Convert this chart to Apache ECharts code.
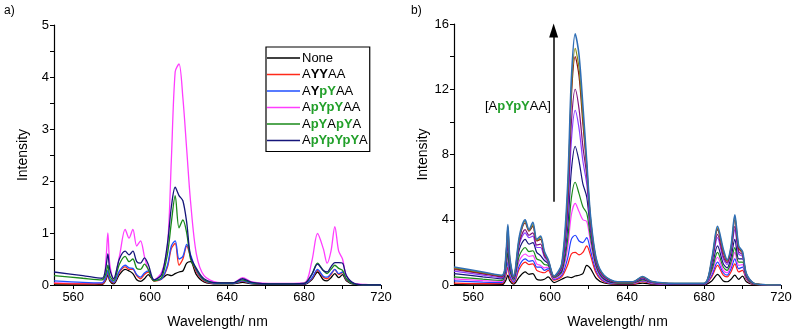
<!DOCTYPE html>
<html>
<head>
<meta charset="utf-8">
<script src="https://cdn.jsdelivr.net/npm/echarts@6/dist/echarts.min.js"></script>
<style>
  html, body { margin: 0; padding: 0; background: #fff; }
  #chart { width: 800px; height: 334px; }
</style>
</head>
<body>
<div id="chart"></div>
<script>
// shared wavelength grid (nm)
const wavelength = [550, 565, 575, 577, 578, 579, 581, 584, 587, 589, 591, 593, 595, 597, 599, 602, 606, 609, 611, 613, 615, 617, 619, 621, 624, 628, 635, 643, 648, 653, 665, 680, 684, 687, 690, 692, 694, 696, 698, 700, 702, 706, 712, 720];

const xTickValues = [560, 580, 600, 620, 640, 660, 680, 700, 720];
const xLabelValues = [560, 600, 640, 680, 720];
const yTicksA = [0, 0.5, 1, 1.5, 2, 2.5, 3, 3.5, 4, 4.5, 5];
const yLabelsA = [0, 1, 2, 3, 4, 5];
const yTicksB = [0, 2, 4, 6, 8, 10, 12, 14, 16];
const yLabelsB = [0, 4, 8, 12, 16];

// panel a – one peptide each
const namesA = ["None", "AYYAA", "AYpYAA", "ApYpYAA", "ApYApYA", "ApYpYpYA"];
const colorsA = ["#000000", "#ff2a1a", "#1f4fff", "#ff3dff", "#1a8a1a", "#15157a"];
const aNone = [0.0, 0.0, 0.01, 0.1, 0.2, 0.08, 0.02, 0.2, 0.3, 0.27, 0.22, 0.1, 0.07, 0.12, 0.2, 0.08, 0.12, 0.2, 0.18, 0.22, 0.25, 0.27, 0.42, 0.45, 0.2, 0.06, 0.02, 0.02, 0.05, 0.02, 0.01, 0.01, 0.1, 0.25, 0.1, 0.08, 0.14, 0.22, 0.14, 0.2, 0.08, 0.01, 0, 0];
const aAYYAA = [0.03, 0.02, 0.02, 0.12, 0.26, 0.1, 0.04, 0.25, 0.35, 0.3, 0.3, 0.18, 0.12, 0.2, 0.25, 0.08, 0.12, 0.35, 0.7, 0.8, 0.38, 0.5, 0.75, 0.55, 0.25, 0.08, 0.03, 0.03, 0.07, 0.03, 0.02, 0.02, 0.12, 0.28, 0.15, 0.12, 0.2, 0.3, 0.2, 0.24, 0.1, 0.02, 0, 0];
const aAYpYAA = [0.08, 0.05, 0.04, 0.15, 0.28, 0.12, 0.05, 0.27, 0.38, 0.33, 0.32, 0.2, 0.15, 0.23, 0.27, 0.09, 0.12, 0.38, 0.75, 0.85, 0.5, 0.55, 0.78, 0.58, 0.28, 0.09, 0.03, 0.03, 0.08, 0.03, 0.02, 0.02, 0.13, 0.3, 0.17, 0.15, 0.22, 0.3, 0.22, 0.25, 0.11, 0.02, 0, 0];
const aApYpYAA = [0.04, 0.03, 0.04, 0.5, 1.0, 0.4, 0.1, 0.55, 1.07, 0.9, 1.07, 0.75, 0.85, 0.55, 0.3, 0.1, 0.25, 0.75, 2.4, 4.1, 4.25, 3.6, 2.6, 1.6, 0.6, 0.18, 0.05, 0.04, 0.14, 0.06, 0.03, 0.04, 0.45, 0.99, 0.7, 0.42, 0.65, 1.12, 0.65, 0.5, 0.18, 0.03, 0.01, 0];
const aApYApYA = [0.18, 0.13, 0.1, 0.22, 0.38, 0.18, 0.08, 0.4, 0.55, 0.45, 0.5, 0.32, 0.3, 0.4, 0.3, 0.08, 0.15, 0.6, 1.2, 1.72, 1.1, 1.25, 1.0, 0.5, 0.3, 0.1, 0.04, 0.04, 0.1, 0.04, 0.02, 0.03, 0.2, 0.42, 0.28, 0.22, 0.3, 0.38, 0.32, 0.28, 0.12, 0.02, 0, 0];
const aApYpYpYA = [0.25, 0.18, 0.13, 0.35, 0.6, 0.3, 0.12, 0.5, 0.65, 0.58, 0.65, 0.45, 0.42, 0.52, 0.4, 0.1, 0.2, 0.8, 1.5, 1.88, 1.72, 1.62, 1.2, 0.55, 0.32, 0.12, 0.04, 0.04, 0.12, 0.05, 0.02, 0.03, 0.2, 0.4, 0.28, 0.25, 0.35, 0.43, 0.43, 0.42, 0.18, 0.03, 0, 0];
const seriesA = [aNone, aAYYAA, aAYpYAA, aApYpYAA, aApYApYA, aApYpYpYA];

// panel b – titration with increasing [ApYpYAA]
const colorsB = ["#000000", "#ff1a1a", "#1f3fff", "#ff3dff", "#1a8a1a", "#15157a", "#8a3dff", "#80107f", "#8a1010", "#8a8a10", "#2f6eb5"];
const b01 = [0.02, 0.01, 0.02, 0.3, 0.6, 0.25, 0.05, 0.5, 0.8, 0.65, 0.7, 0.35, 0.3, 0.35, 0.5, 0.15, 0.35, 0.5, 0.45, 0.55, 0.6, 0.7, 1.2, 1.0, 0.4, 0.12, 0.04, 0.04, 0.12, 0.05, 0.02, 0.02, 0.25, 0.65, 0.25, 0.2, 0.35, 0.6, 0.35, 0.55, 0.2, 0.02, 0, 0];
const b02 = [0.12, 0.08, 0.08, 0.6, 1.1, 0.45, 0.12, 1.0, 1.4, 1.25, 1.3, 0.9, 0.8, 0.75, 0.9, 0.3, 0.5, 1.2, 1.9, 2.0, 1.85, 2.0, 2.4, 1.8, 0.7, 0.2, 0.06, 0.06, 0.2, 0.08, 0.03, 0.03, 0.5, 1.2, 0.6, 0.5, 0.8, 1.3, 0.8, 0.9, 0.35, 0.04, 0.01, 0];
const b03 = [0.25, 0.18, 0.15, 0.75, 1.4, 0.6, 0.18, 1.2, 1.6, 1.45, 1.5, 1.1, 1.1, 0.9, 1.0, 0.35, 0.6, 1.6, 2.8, 3.05, 2.7, 2.6, 2.9, 2.1, 0.85, 0.25, 0.08, 0.08, 0.25, 0.1, 0.04, 0.04, 0.6, 1.4, 0.75, 0.6, 1.0, 1.6, 1.0, 1.1, 0.4, 0.05, 0.01, 0];
const b04 = [0.38, 0.27, 0.22, 0.95, 1.8, 0.8, 0.25, 1.5, 1.9, 1.75, 1.8, 1.3, 1.2, 1.05, 1.1, 0.4, 0.7, 2.2, 4.3, 5.0, 4.5, 4.0, 3.9, 2.6, 1.0, 0.3, 0.1, 0.1, 0.28, 0.12, 0.05, 0.05, 0.75, 1.7, 0.9, 0.75, 1.2, 2.0, 1.2, 1.25, 0.45, 0.06, 0.01, 0];
const b05 = [0.5, 0.36, 0.28, 1.05, 2.0, 0.9, 0.3, 1.8, 2.3, 2.05, 2.1, 1.6, 1.5, 1.25, 1.2, 0.45, 0.8, 2.7, 5.3, 6.3, 5.6, 4.8, 4.4, 2.9, 1.1, 0.35, 0.12, 0.12, 0.32, 0.14, 0.06, 0.06, 0.9, 2.0, 1.1, 0.9, 1.4, 2.3, 1.4, 1.4, 0.5, 0.07, 0.01, 0];
const b06 = [0.7, 0.5, 0.38, 1.3, 2.5, 1.1, 0.38, 2.2, 2.8, 2.5, 2.6, 2.0, 1.8, 1.5, 1.3, 0.5, 0.9, 3.4, 7.0, 8.5, 7.6, 6.2, 5.4, 3.3, 1.25, 0.4, 0.14, 0.14, 0.38, 0.16, 0.07, 0.07, 1.1, 2.4, 1.3, 1.05, 1.7, 2.8, 1.6, 1.6, 0.55, 0.08, 0.02, 0];
const b07 = [0.85, 0.6, 0.45, 1.55, 3.0, 1.35, 0.42, 2.5, 3.2, 2.9, 3.0, 2.3, 2.3, 1.7, 1.4, 0.5, 1.0, 4.1, 8.8, 10.7, 9.6, 7.6, 6.2, 3.6, 1.35, 0.45, 0.16, 0.16, 0.42, 0.18, 0.08, 0.08, 1.3, 2.9, 1.6, 1.25, 2.0, 3.4, 1.9, 1.75, 0.6, 0.09, 0.02, 0];
const b08 = [0.95, 0.68, 0.5, 1.65, 3.2, 1.45, 0.45, 2.6, 3.4, 3.05, 3.2, 2.45, 2.5, 1.8, 1.45, 0.5, 1.1, 4.6, 9.9, 12.0, 10.8, 8.5, 6.7, 3.8, 1.4, 0.5, 0.17, 0.17, 0.45, 0.19, 0.09, 0.09, 1.4, 3.1, 1.75, 1.35, 2.1, 3.6, 2.05, 1.85, 0.63, 0.09, 0.02, 0];
const b09 = [1.0, 0.72, 0.55, 1.8, 3.5, 1.6, 0.48, 2.8, 3.8, 3.3, 3.6, 2.7, 2.8, 1.95, 1.5, 0.52, 1.2, 5.3, 11.5, 14.0, 12.8, 9.9, 7.2, 4.0, 1.5, 0.55, 0.18, 0.18, 0.48, 0.2, 0.09, 0.09, 1.5, 3.4, 2.0, 1.45, 2.25, 4.0, 2.25, 1.95, 0.66, 0.1, 0.02, 0];
const b10 = [1.05, 0.76, 0.58, 1.85, 3.6, 1.65, 0.5, 2.9, 3.9, 3.35, 3.7, 2.75, 2.9, 2.0, 1.5, 0.53, 1.25, 5.5, 11.9, 14.5, 13.3, 10.3, 7.4, 4.1, 1.55, 0.57, 0.19, 0.19, 0.5, 0.2, 0.1, 0.1, 1.55, 3.5, 2.1, 1.5, 2.3, 4.2, 2.35, 2.0, 0.68, 0.1, 0.02, 0];
const b11 = [1.1, 0.8, 0.6, 1.9, 3.7, 1.7, 0.52, 3.0, 4.0, 3.4, 3.85, 2.8, 3.0, 2.05, 1.55, 0.55, 1.3, 5.9, 12.6, 15.4, 14.1, 11.0, 7.6, 4.2, 1.6, 0.6, 0.2, 0.2, 0.52, 0.21, 0.1, 0.1, 1.6, 3.6, 2.2, 1.55, 2.35, 4.3, 2.4, 2.05, 0.7, 0.1, 0.02, 0];
const seriesB = [b01, b02, b03, b04, b05, b06, b07, b08, b09, b10, b11];

// arrow in panel b (data coords)
const arrowFrom = [601.8, 5.1];
const arrowTo = [601.8, 15.6];

const FONT = "Liberation Sans, Arial, sans-serif";
const GREEN = "#22a02a";

// legend labels with the phospho residues in green
const legendRich = {
  None: "{n|None}",
  AYYAA: "{n|A}{b|YY}{n|AA}",
  AYpYAA: "{n|A}{b|Y}{g|pY}{n|AA}",
  ApYpYAA: "{n|A}{g|pYpY}{n|AA}",
  ApYApYA: "{n|A}{g|pY}{n|A}{g|pY}{n|A}",
  ApYpYpYA: "{n|A}{g|pYpYpY}{n|A}",
};

const chart = echarts.init(document.getElementById("chart"), null, { renderer: "canvas" });

function pairs(ys) {
  return wavelength.map((x, i) => [x, ys[i]]);
}

function xAxisFor(gridIndex) {
  return {
    type: "value",
    gridIndex,
    min: 550,
    max: 720,
    name: "Wavelength/ nm",
    nameLocation: "middle",
    nameGap: 30,
    nameTextStyle: { fontFamily: FONT, fontSize: 14, color: "#000" },
    axisLine: { lineStyle: { color: "#000", width: 1.2 } },
    axisTick: { length: 4, lineStyle: { color: "#000" }, customValues: xTickValues },
    axisLabel: { fontFamily: FONT, fontSize: 13, color: "#000", margin: 6, customValues: xLabelValues },
    splitLine: { show: false },
  };
}

function yAxisFor(gridIndex, max, ticks, labels) {
  return {
    type: "value",
    gridIndex,
    min: 0,
    max,
    name: "Intensity",
    nameLocation: "middle",
    nameGap: 24,
    nameRotate: 90,
    nameTextStyle: { fontFamily: FONT, fontSize: 14, color: "#000" },
    axisLine: { show: true, lineStyle: { color: "#000", width: 1.2 } },
    axisTick: { show: true, length: 4, lineStyle: { color: "#000" }, customValues: ticks },
    axisLabel: { fontFamily: FONT, fontSize: 13, color: "#000", margin: 5, customValues: labels },
    splitLine: { show: false },
  };
}

const series = [];
namesA.forEach((name, i) => {
  series.push({
    name,
    type: "line",
    xAxisIndex: 0,
    yAxisIndex: 0,
    data: pairs(seriesA[i]),
    symbol: "none",
    smooth: 0.3,
    lineStyle: { color: colorsA[i], width: 1.3 },
    itemStyle: { color: colorsA[i] },
    z: i === 3 ? 1 : 2,
  });
});
seriesB.forEach((ys, i) => {
  series.push({
    name: "b" + (i + 1),
    type: "line",
    xAxisIndex: 1,
    yAxisIndex: 1,
    data: pairs(ys),
    symbol: "none",
    smooth: 0.3,
    lineStyle: { color: colorsB[i], width: i === seriesB.length - 1 ? 1.6 : 1.2 },
    itemStyle: { color: colorsB[i] },
    markLine: i === seriesB.length - 1 ? {
      silent: true,
      symbol: ["none", "triangle"],
      symbolSize: [9, 14],
      label: { show: false },
      lineStyle: { color: "#000", width: 1.5, type: "solid" },
      data: [[{ coord: arrowFrom }, { coord: arrowTo }]],
    } : undefined,
  });
});

chart.setOption({
  animation: false,
  backgroundColor: "#fff",
  grid: [
    { left: 54, top: 25, width: 327, height: 260 },
    { left: 454, top: 24, width: 327, height: 262 },
  ],
  xAxis: [xAxisFor(0), xAxisFor(1)],
  yAxis: [yAxisFor(0, 5, yTicksA, yLabelsA), yAxisFor(1, 16, yTicksB, yLabelsB)],
  legend: {
    data: namesA.map((name) => ({ name, icon: "rect" })),
    orient: "vertical",
    left: 266,
    top: 47,
    width: 104,
    itemWidth: 33,
    itemHeight: 1.6,
    itemGap: 2.5,
    padding: [4, 2, 4, 1],
    borderColor: "#000",
    borderWidth: 1.2,
    backgroundColor: "#fff",
    selectedMode: false,
    formatter: (name) => legendRich[name],
    textStyle: {
      fontFamily: FONT,
      fontSize: 13,
      color: "#000",
      lineHeight: 14,
      padding: [0, 0, 0, -3],
      rich: {
        n: { fontFamily: FONT, fontSize: 13, color: "#000", lineHeight: 14 },
        b: { fontFamily: FONT, fontSize: 13, color: "#000", fontWeight: "bold", lineHeight: 14 },
        g: { fontFamily: FONT, fontSize: 13, color: GREEN, fontWeight: "bold", lineHeight: 14 },
      },
    },
  },
  graphic: [
    { type: "text", left: 4, top: 5, style: { text: "a)", font: "12px " + FONT, fill: "#000" } },
    { type: "text", left: 411, top: 5, style: { text: "b)", font: "12px " + FONT, fill: "#000" } },
    {
      type: "text",
      left: 485,
      top: 100,
      style: {
        text: "{n|[A}{g|pYpY}{n|AA]}",
        rich: {
          n: { fontFamily: FONT, fontSize: 13, fill: "#000" },
          g: { fontFamily: FONT, fontSize: 13, fill: GREEN, fontWeight: "bold" },
        },
      },
    },
  ],
  series,
});
</script>
</body>
</html>
